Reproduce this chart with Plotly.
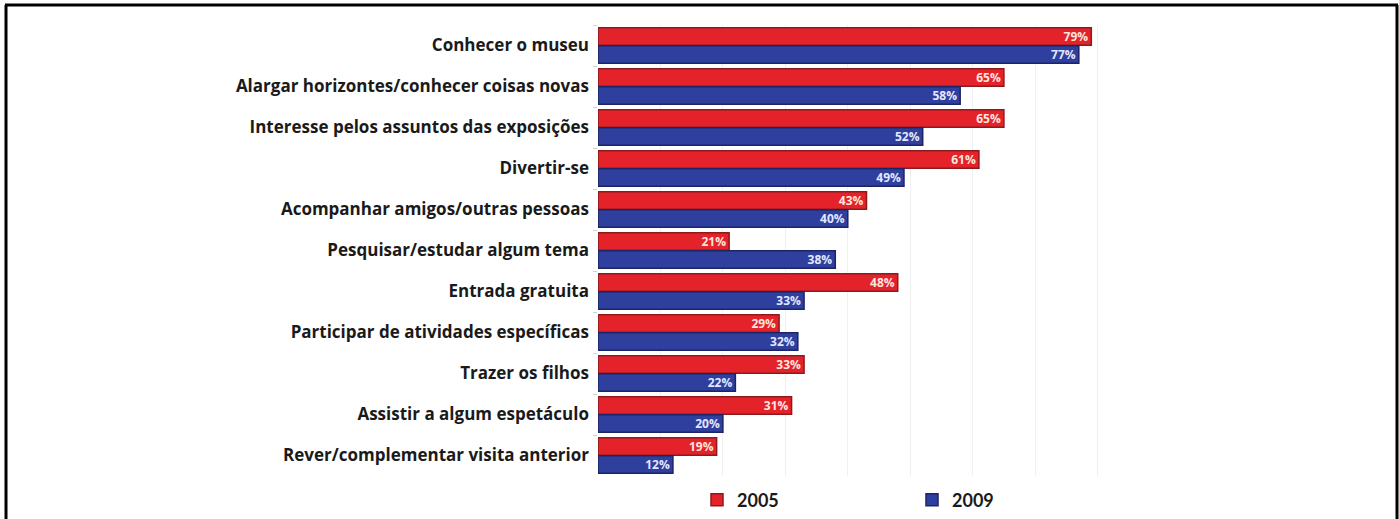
import plotly.graph_objects as go

categories = [
    "Conhecer o museu",
    "Alargar horizontes/conhecer coisas novas",
    "Interesse pelos assuntos das exposições",
    "Divertir-se",
    "Acompanhar amigos/outras pessoas",
    "Pesquisar/estudar algum tema",
    "Entrada gratuita",
    "Participar de atividades específicas",
    "Trazer os filhos",
    "Assistir a algum espetáculo",
    "Rever/complementar visita anterior",
]
values_2005 = [79, 65, 65, 61, 43, 21, 48, 29, 33, 31, 19]
values_2009 = [77, 58, 52, 49, 40, 38, 33, 32, 22, 20, 12]
series_names = ["2005", "2009"]

W, H = 1399, 519
L, R, T, B = 598, 1160, 25, 476

FONT = "Open Sans"

def px_x(p):
    return (p - L) / (R - L)

def px_y(p):
    return (B - p) / (B - T)

fig = go.Figure()
fig.add_trace(go.Bar(
    y=categories, x=values_2005, name=series_names[0], orientation="h",
    marker=dict(color="#E3222A", line=dict(color="#8E1A1E", width=1.5)),
    text=[f"{v}%" for v in values_2005], textposition="inside",
    insidetextanchor="end",
    textfont=dict(family=FONT, size=12, color="#FFE6DE", weight="bold"),
    hoverinfo="skip",
))
fig.add_trace(go.Bar(
    y=categories, x=values_2009, name=series_names[1], orientation="h",
    marker=dict(color="#2F3F9E", line=dict(color="#1C2466", width=1.5)),
    text=[f"{v}%" for v in values_2009], textposition="inside",
    insidetextanchor="end",
    textfont=dict(family=FONT, size=12, color="#E3E8FF", weight="bold"),
    hoverinfo="skip",
))

border = dict(color="black", width=3)
fig.update_layout(
    width=W, height=H,
    margin=dict(l=L, r=W - R, t=T, b=H - B, pad=0),
    paper_bgcolor="white", plot_bgcolor="white",
    barmode="group", bargap=0.12, bargroupgap=0.04,
    uniformtext=dict(minsize=8, mode="show"),
    xaxis=dict(range=[0, 90], dtick=10, showgrid=True, gridcolor="#F0F0F0",
               gridwidth=1, zeroline=False, showticklabels=False, showline=False,
               automargin=False),
    yaxis=dict(autorange="reversed", showgrid=False, showline=False,
               ticks="outside", tickson="boundaries", ticklen=4,
               tickcolor="#D0D0D0", ticklabelstandoff=8, automargin=False,
               tickfont=dict(family=FONT, size=17, color="#1A1A1A", weight="bold")),
    showlegend=True,
    legend=dict(orientation="h", xref="container", x=697 / W, xanchor="left",
                yref="container", y=1 - 500 / H, yanchor="middle",
                entrywidth=170, entrywidthmode="pixels",
                font=dict(family="Lato", size=18, color="#1A1A1A", weight="bold"),
                traceorder="normal", itemclick=False, itemdoubleclick=False),
    shapes=[
        dict(type="line", xref="paper", yref="paper",
             x0=px_x(6), x1=px_x(6), y0=px_y(5), y1=px_y(530), line=border),
        dict(type="line", xref="paper", yref="paper",
             x0=px_x(5), x1=px_x(1398), y0=px_y(5), y1=px_y(5), line=border),
        dict(type="line", xref="paper", yref="paper",
             x0=px_x(1397), x1=px_x(1397), y0=px_y(5), y1=px_y(530), line=border),
    ],
)

fig.write_html("out.html", config={"displayModeBar": False},
               post_script="document.body.style.margin='0px';document.body.style.padding='0px';")
